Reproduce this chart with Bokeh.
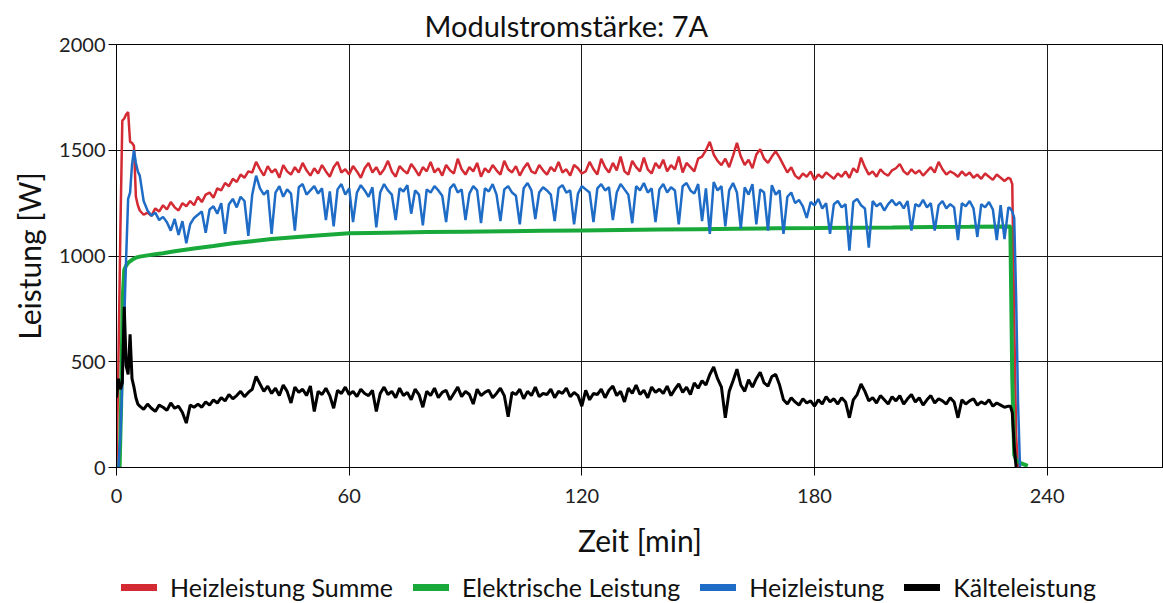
from bokeh.plotting import figure
from bokeh.layouts import column
from bokeh.models import Range1d, FixedTicker, Legend, LegendItem
from bokeh.embed import file_html
from bokeh.resources import INLINE

nan = float("nan")

# Zeitachse [min]: feine Abtastung beim Anfahren und Abschalten, sonst minütlich
zeit = ([0, 0.5, 1, 1.5, 2, 2.5, 3, 3.5, 4, 4.5, 5, 5.5]
        + [float(m) for m in range(6, 231)]
        + [230.5, 231, 231.5, 232, 232.5, 233, 234, 235])

# Heizleistung Summe [W]
heiz_summe = (
    [0, 500, 1120, 1640, 1650, 1670, 1680, 1540, 1535, 1520, 1280, 1240]
    + [1215, 1195, 1205, 1190, 1225, 1210, 1240, 1220, 1255, 1230, 1215, 1250, 1235, 1260, 1240]
    + [1280, 1255, 1290, 1300, 1275, 1320, 1310, 1345, 1330, 1365, 1350, 1385, 1370, 1400, 1395]
    + [1445, 1410, 1380, 1425, 1395, 1410, 1370, 1430, 1400, 1385, 1420, 1395, 1440, 1405, 1380]
    + [1415, 1390, 1430, 1400, 1375, 1420, 1445, 1395, 1410, 1385, 1425, 1400, 1370, 1415, 1440]
    + [1395, 1420, 1385, 1410, 1450, 1400, 1375, 1425, 1405, 1390, 1435, 1410, 1380, 1420, 1400]
    + [1445, 1395, 1415, 1380, 1430, 1405, 1390, 1460, 1410, 1385, 1420, 1400, 1440, 1375, 1415]
    + [1395, 1430, 1405, 1385, 1450, 1410, 1395, 1425, 1380, 1415, 1440, 1400, 1390, 1430, 1405]
    + [1385, 1420, 1400, 1445, 1395, 1410, 1380, 1430, 1415, 1390, 1400, 1445, 1410, 1385, 1460]
    + [1420, 1395, 1440, 1405, 1470, 1400, 1385, 1450, 1420, 1400, 1465, 1410, 1390, 1440, 1415]
    + [1455, 1400, 1430, 1410, 1470, 1395, 1440, 1420, 1400, 1460, 1470, 1500, 1540, 1480, 1450]
    + [1430, 1460, 1420, 1475, 1535, 1470, 1430, 1455, 1415, 1480, 1505, 1460, 1440, 1470, 1495]
    + [1465, 1430, 1395, 1420, 1380, 1365, 1390, 1375, 1400, 1360, 1385, 1370, 1395, 1380, 1365]
    + [1390, 1375, 1400, 1370, 1415, 1395, 1465, 1420, 1385, 1400, 1375, 1410, 1390, 1380, 1405]
    + [1415, 1435, 1400, 1385, 1410, 1390, 1405, 1380, 1400, 1420, 1395, 1445, 1410, 1385, 1400]
    + [1390, 1375, 1400, 1380, 1395, 1370, 1385, 1365, 1390, 1375, 1360, 1385, 1370, 1355, 1370]
    + [1365, 1340, 700, 150, 0, nan, nan, nan]
)

# Heizleistung [W]
heiz = (
    [0, 0, 150, 400, 700, 1000, 1270, 1300, 1430, 1500, 1440, 1400]
    + [1380, 1260, 1215, 1190, 1205, 1170, 1185, 1160, 1120, 1175, 1100, 1165, 1060, 1150, 1180]
    + [1195, 1210, 1110, 1220, 1235, 1200, 1250, 1105, 1245, 1270, 1230, 1280, 1260, 1095, 1290]
    + [1380, 1320, 1290, 1310, 1105, 1300, 1330, 1280, 1315, 1295, 1120, 1325, 1340, 1290, 1310]
    + [1330, 1295, 1320, 1170, 1305, 1140, 1315, 1340, 1290, 1320, 1160, 1300, 1335, 1310, 1280]
    + [1325, 1135, 1300, 1340, 1310, 1290, 1170, 1320, 1305, 1335, 1200, 1310, 1290, 1145, 1315]
    + [1300, 1330, 1310, 1285, 1160, 1320, 1340, 1300, 1315, 1170, 1295, 1330, 1310, 1155, 1320]
    + [1305, 1340, 1290, 1165, 1315, 1330, 1300, 1285, 1150, 1320, 1345, 1310, 1175, 1300, 1325]
    + [1310, 1290, 1165, 1320, 1335, 1300, 1310, 1150, 1295, 1330, 1315, 1300, 1160, 1320, 1340]
    + [1310, 1325, 1170, 1300, 1340, 1315, 1290, 1155, 1330, 1310, 1345, 1300, 1320, 1160, 1315]
    + [1340, 1300, 1325, 1310, 1150, 1330, 1345, 1310, 1295, 1340, 1165, 1320, 1105, 1350, 1310]
    + [1330, 1140, 1310, 1345, 1300, 1130, 1325, 1290, 1340, 1150, 1315, 1300, 1120, 1335, 1290]
    + [1310, 1105, 1280, 1300, 1250, 1265, 1235, 1180, 1255, 1240, 1270, 1225, 1250, 1105, 1245]
    + [1260, 1230, 1245, 1025, 1255, 1270, 1240, 1225, 1040, 1260, 1235, 1250, 1215, 1245, 1265]
    + [1240, 1255, 1225, 1260, 1120, 1245, 1235, 1265, 1230, 1250, 1120, 1240, 1260, 1225, 1245]
    + [1230, 1075, 1250, 1235, 1260, 1225, 1090, 1245, 1230, 1255, 1220, 1075, 1240, 1080, 1230]
    + [1225, 1210, 1180, 800, 300, 0, nan, nan]
)

# Kälteleistung [W]
kaelte = (
    [330, 420, 370, 400, 760, 480, 440, 630, 420, 380, 330, 300]
    + [290, 275, 300, 280, 265, 295, 285, 270, 305, 280, 290, 260, 210, 295, 285]
    + [300, 285, 310, 295, 320, 305, 330, 315, 345, 325, 340, 360, 335, 355, 370]
    + [430, 395, 360, 385, 350, 375, 340, 390, 360, 305, 380, 355, 370, 340, 385]
    + [265, 360, 345, 375, 340, 280, 365, 350, 380, 345, 360, 335, 370, 350, 340]
    + [365, 265, 350, 380, 345, 360, 330, 375, 340, 355, 320, 370, 345, 285, 360]
    + [340, 375, 330, 355, 365, 320, 350, 380, 335, 360, 345, 300, 370, 340, 355]
    + [365, 330, 350, 375, 340, 240, 355, 345, 370, 325, 360, 340, 380, 335, 350]
    + [345, 370, 330, 360, 350, 375, 335, 355, 340, 290, 365, 320, 350, 345, 370]
    + [330, 365, 385, 340, 360, 310, 375, 350, 390, 345, 365, 330, 380, 355, 370]
    + [350, 385, 340, 370, 395, 355, 380, 345, 400, 375, 410, 390, 440, 475, 420]
    + [380, 235, 360, 410, 465, 390, 360, 415, 380, 420, 450, 400, 385, 430, 440]
    + [390, 320, 300, 330, 310, 295, 325, 305, 315, 290, 320, 300, 335, 310, 325]
    + [300, 330, 310, 235, 320, 345, 395, 360, 315, 330, 305, 340, 320, 300, 335]
    + [315, 340, 300, 325, 345, 310, 330, 295, 320, 340, 305, 325, 315, 300, 330]
    + [310, 235, 320, 300, 315, 325, 295, 310, 300, 320, 290, 305, 295, 285, 290]
    + [290, 260, 100, 0, nan, nan, nan, nan]
)

# Elektrische Leistung [W] – glatter Verlauf, eigene Stützstellen
zeit_el = [0, 0.8, 1.2, 1.6, 2, 2.5, 3, 4, 5, 6, 8, 10, 12, 15, 20, 25, 30, 35, 40,
           50, 60, 70, 80, 90, 100, 110, 120, 130, 140, 150, 160, 170, 180, 190,
           200, 210, 220, 230.5, 231, 231.5, 232, 233, 234, 235]
elektrisch = [0, 0, 300, 800, 935, 955, 968, 982, 992, 997, 1003, 1008, 1013, 1022,
              1035, 1047, 1060, 1070, 1080, 1095, 1107, 1110, 1113, 1115, 1117, 1119,
              1121, 1123, 1125, 1127, 1129, 1131, 1132, 1134, 1135, 1137, 1138, 1140,
              420, 60, 35, 22, 15, 8]

x_ticks = [0, 60, 120, 180, 240]
y_ticks = [0, 500, 1000, 1500, 2000]

assert len(zeit) == len(heiz_summe) == len(heiz) == len(kaelte)
assert len(zeit_el) == len(elektrisch)

FONT = "Lato"
ROT = "#d42a33"
GRUEN = "#19a93b"
BLAU = "#1f6cc6"
SCHWARZ = "#000000"

# Hauptdiagramm
p = figure(width=1163, height=567, output_backend="svg", toolbar_location=None,
           x_range=Range1d(0, 270), y_range=Range1d(0, 2000),
           min_border_left=116, min_border_right=0, min_border_top=44, min_border_bottom=100)

p.title.text = "Modulstromstärke: 7A"
p.title.text_font = FONT
p.title.text_font_size = "29px"
p.title.text_font_style = "normal"
p.title.text_color = "#111111"
p.title.align = "left"
p.title.offset = 308
p.title.standoff = 4

p.line(zeit, heiz_summe, color=ROT, line_width=2.5)
p.line(zeit_el, elektrisch, color=GRUEN, line_width=4)
p.line(zeit, heiz, color=BLAU, line_width=2.5)
p.line(zeit, kaelte, color=SCHWARZ, line_width=3)

for ax in (p.xaxis[0], p.yaxis[0]):
    ax.major_tick_in = 0
    ax.major_tick_out = 8
    ax.minor_tick_in = 0
    ax.minor_tick_out = 0
    ax.axis_line_color = "black"
    ax.major_tick_line_color = "black"
    ax.major_label_text_font = FONT
    ax.major_label_text_font_size = "20px"
    ax.major_label_text_color = "#222222"
    ax.axis_label_text_font = FONT
    ax.axis_label_text_font_size = "30px"
    ax.axis_label_text_font_style = "normal"
    ax.axis_label_text_color = "#111111"

p.xaxis.ticker = FixedTicker(ticks=x_ticks)
p.yaxis.ticker = FixedTicker(ticks=y_ticks)
p.xaxis.axis_label = "Zeit [min]"
p.yaxis.axis_label = "Leistung [W]"
p.xaxis.major_label_standoff = 13
p.yaxis.major_label_standoff = 3
p.xaxis.axis_label_standoff = 16
p.yaxis.axis_label_standoff = 9

p.xgrid.ticker = FixedTicker(ticks=x_ticks)
p.ygrid.ticker = FixedTicker(ticks=y_ticks)
for g in (p.xgrid[0], p.ygrid[0]):
    g.grid_line_color = "#1a1a1a"
    g.grid_line_width = 1
p.outline_line_color = "black"
p.outline_line_width = 1

# Legendenzeile unter dem Diagramm: die Kurven liegen hier außerhalb des
# Wertebereichs, sichtbar sind nur die Legendensymbole
leg = figure(width=1163, height=36, output_backend="svg", toolbar_location=None,
             x_range=Range1d(0, 270), y_range=Range1d(-20, -10),
             x_axis_type=None, y_axis_type=None,
             min_border_left=0, min_border_right=0, min_border_top=0, min_border_bottom=0)
leg.outline_line_color = None
leg.grid.visible = False

leg_r = leg.line(zeit, heiz_summe, color=ROT, line_width=7, line_cap="round")
leg_g = leg.line(zeit_el, elektrisch, color=GRUEN, line_width=7, line_cap="round")
leg_b = leg.line(zeit, heiz, color=BLAU, line_width=7, line_cap="round")
leg_k = leg.line(zeit, kaelte, color=SCHWARZ, line_width=7, line_cap="round")
legend = Legend(items=[
    LegendItem(label="Heizleistung Summe", renderers=[leg_r]),
    LegendItem(label="Elektrische Leistung", renderers=[leg_g]),
    LegendItem(label="Heizleistung", renderers=[leg_b]),
    LegendItem(label="Kälteleistung", renderers=[leg_k]),
], orientation="horizontal", location=(5, 1))
legend.label_text_font = FONT
legend.label_text_font_size = "25px"
legend.label_text_color = "#111111"
legend.glyph_width = 36
legend.glyph_height = 20
legend.label_standoff = 13
legend.spacing = 20
legend.padding = 0
legend.margin = 0
legend.border_line_color = None
legend.background_fill_alpha = 0
leg.add_layout(legend, "center")

open("out.html", "w").write(file_html(column(p, leg, spacing=0), INLINE))
